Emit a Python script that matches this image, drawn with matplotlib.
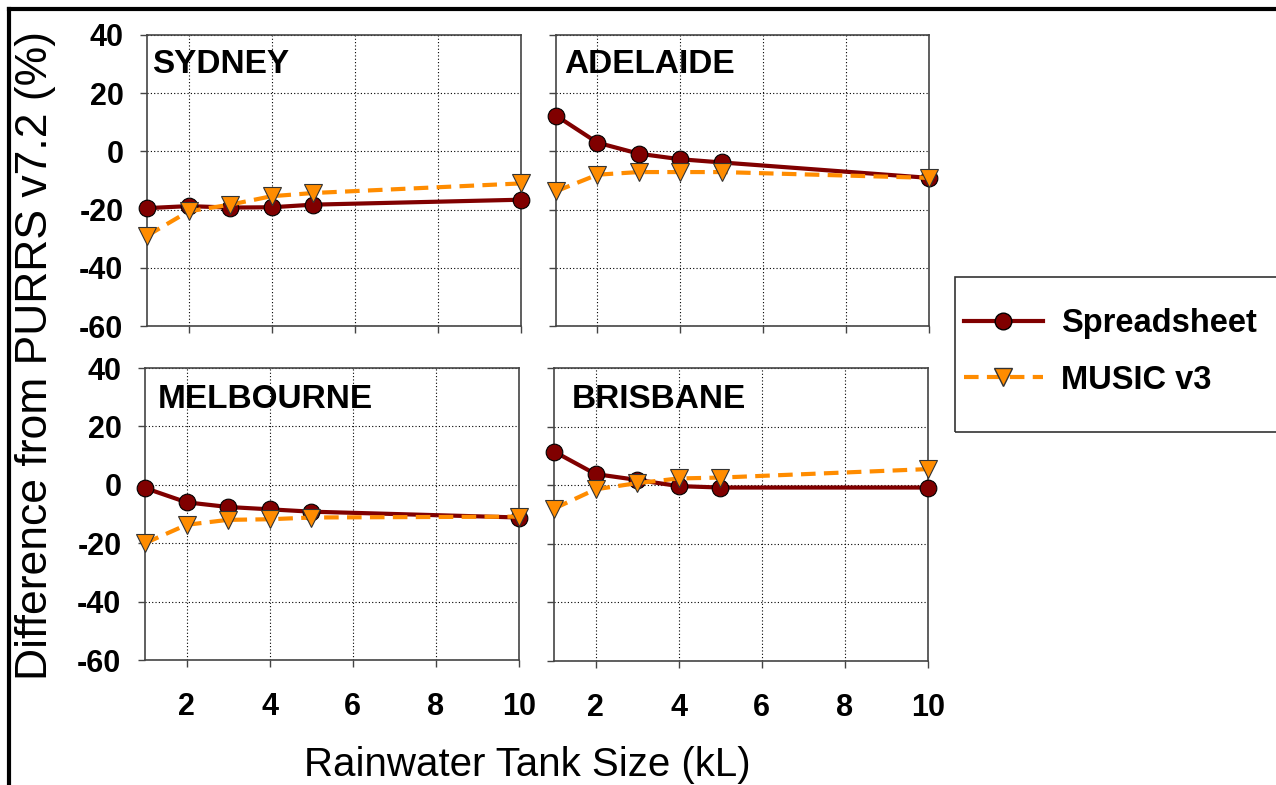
import matplotlib
matplotlib.use('Agg')
import matplotlib.pyplot as plt
from matplotlib.patches import Rectangle
from matplotlib.lines import Line2D

plt.rcParams['font.family'] = ['Liberation Sans', 'DejaVu Sans']
plt.rcParams['axes.unicode_minus'] = False

# tank sizes (kL)
tank_size = [1, 2, 3, 4, 5, 10]

# difference from PURRS v7.2 (%)
cities = ['SYDNEY', 'ADELAIDE', 'MELBOURNE', 'BRISBANE']
spreadsheet = {
    'SYDNEY':    [-19.5, -18.8, -19.3, -19.2, -18.3, -16.6],
    'ADELAIDE':  [12.3, 3.0, -0.8, -2.7, -3.8, -9.1],
    'MELBOURNE': [-1.1, -6.0, -7.6, -8.4, -9.2, -11.2],
    'BRISBANE':  [11.5, 3.8, 1.8, -0.3, -0.8, -0.8],
}
music = {
    'SYDNEY':    [-29.0, -20.6, -18.3, -15.4, -14.3, -11.0],
    'ADELAIDE':  [-13.7, -8.0, -7.1, -7.1, -7.1, -9.1],
    'MELBOURNE': [-20.0, -13.7, -12.0, -11.8, -11.2, -10.9],
    'BRISBANE':  [-8.0, -1.4, 0.7, 2.3, 2.6, 5.5],
}

W, H = 1276, 785
fig = plt.figure(figsize=(W / 100, H / 100), dpi=100)

# axes boxes in pixels: left, right, top, bottom
boxes = {
    'SYDNEY':    (147, 521, 35, 326),
    'ADELAIDE':  (556, 929, 35, 326),
    'MELBOURNE': (145, 519, 368, 660),
    'BRISBANE':  (554, 928, 368, 661),
}
title_off = {'SYDNEY': (5, 14), 'ADELAIDE': (8, 14),
             'MELBOURNE': (13, 16), 'BRISBANE': (18, 16)}

RED = '#800000'
ORANGE = '#FF8C00'

for i, city in enumerate(cities):
    l, r, t, b = boxes[city]
    ax = fig.add_axes([l / W, 1 - b / H, (r - l) / W, (b - t) / H])
    ax.plot(tank_size, spreadsheet[city], color=RED, lw=3, marker='o',
            markersize=12, markerfacecolor=RED, markeredgecolor='black',
            markeredgewidth=0.8, clip_on=False, zorder=3)
    ax.plot(tank_size, music[city], color=ORANGE, lw=3, ls=(0, (3.5, 2)),
            marker='v', markersize=13, markerfacecolor=ORANGE,
            markeredgecolor='#333333', markeredgewidth=0.8, clip_on=False,
            zorder=4)
    ax.set_xlim(1, 10)
    ax.set_ylim(-60, 40)
    ax.set_xticks([2, 4, 6, 8, 10])
    ax.set_yticks([-60, -40, -20, 0, 20, 40])
    ax.grid(True, color='black', ls=(0, (1, 2)), lw=0.8)
    ax.tick_params(direction='out', length=5, width=1, color='#444444',
                   labelsize=22)
    ax.tick_params(axis='y', pad=12)
    ax.tick_params(axis='x', pad=18)
    for lab in ax.get_xticklabels() + ax.get_yticklabels():
        lab.set_fontweight('bold')
    if i < 2:
        ax.tick_params(labelbottom=False)
    if i % 2 == 1:
        ax.tick_params(labelleft=False)
    for s in ax.spines.values():
        s.set_color('#444444')
        s.set_linewidth(1.2)
    dx, dy = title_off[city]
    ax.annotate(city, xy=(0, 1), xycoords='axes fraction',
                xytext=(dx * 0.72, -dy * 0.72), textcoords='offset points',
                ha='left', va='top', fontsize=24, fontweight='bold')

fig.text(36 / W, 1 - 355 / H, 'Difference from PURRS v7.2 (%)',
         rotation=90, ha='center', va='center', fontsize=32)
fig.text(527 / W, 1 - 765 / H, 'Rainwater Tank Size (kL)',
         ha='center', va='center', fontsize=29)

# legend frame (runs off the right edge like the original)
fig.patches.append(Rectangle((955 / W, 1 - 432 / H), 400 / W, 155 / H,
                             transform=fig.transFigure, fill=False,
                             edgecolor='#333333', lw=1.2))
handles = [
    Line2D([], [], color=RED, lw=3, marker='o', markersize=12,
           markerfacecolor=RED, markeredgecolor='black'),
    Line2D([], [], color=ORANGE, lw=3, ls=(0, (3.5, 2)), marker='v',
           markersize=13, markerfacecolor=ORANGE, markeredgecolor='#333333'),
]
fig.legend(handles, ['Spreadsheet', 'MUSIC v3'], loc='upper left',
           bbox_to_anchor=(948 / W, 1 - 292 / H), frameon=False,
           prop={'size': 23.5, 'weight': 'bold'}, handlelength=2.4,
           handletextpad=0.55, labelspacing=0.78, borderpad=0)

# figure border (top and left visible)
fig.add_artist(Line2D([9 / W, 9 / W], [0, 1 - 9 / H], transform=fig.transFigure,
                      color='black', lw=3))
fig.add_artist(Line2D([9 / W, 1], [1 - 9 / H, 1 - 9 / H],
                      transform=fig.transFigure, color='black', lw=3))

fig.savefig('out.png', dpi=100)
